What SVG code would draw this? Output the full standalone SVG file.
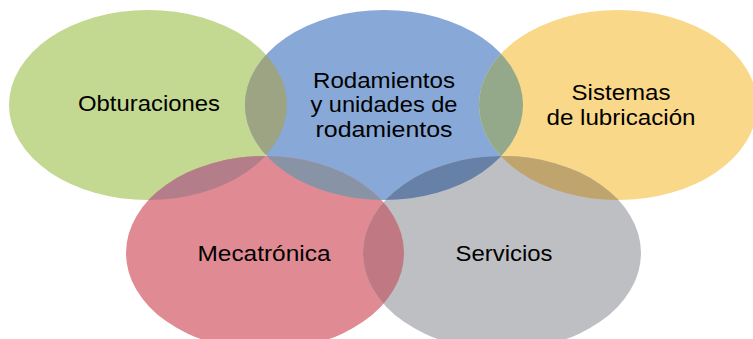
<svg xmlns="http://www.w3.org/2000/svg" width="753" height="339" viewBox="0 0 753 339">
<style>
text{font-family:"Liberation Sans",Arial,sans-serif;font-size:22px;fill:#000;text-anchor:middle}
</style>
<defs>
<ellipse id="eG" cx="148" cy="105" rx="139" ry="95"/>
<ellipse id="eB" cx="384" cy="105" rx="139" ry="95"/>
<ellipse id="eY" cx="618" cy="105" rx="139" ry="95"/>
<ellipse id="eR" cx="265" cy="253" rx="139" ry="97"/>
<ellipse id="eS" cx="502" cy="253" rx="139" ry="97"/>
<clipPath id="cG"><use href="#eG"/></clipPath>
<clipPath id="cB"><use href="#eB"/></clipPath>
<clipPath id="cY"><use href="#eY"/></clipPath>
<clipPath id="cR"><use href="#eR"/></clipPath>
</defs>
<rect width="753" height="339" fill="#fff"/>
<g id="obturaciones"><use href="#eG" fill="#C3D891"/></g>
<g id="rodamientos"><use href="#eB" fill="#88A9D8"/></g>
<g id="lubricacion"><use href="#eY" fill="#FAD889"/></g>
<g id="mecatronica"><use href="#eR" fill="#E08A93"/></g>
<g id="servicios"><use href="#eS" fill="#BEBFC3"/></g>
<g id="overlaps">
<use href="#eB" fill="#9CA484" clip-path="url(#cG)"/>
<use href="#eY" fill="#93A98A" clip-path="url(#cB)"/>
<use href="#eR" fill="#B37E89" clip-path="url(#cG)"/>
<use href="#eR" fill="#8894A6" clip-path="url(#cB)"/>
<use href="#eS" fill="#6780A7" clip-path="url(#cB)"/>
<use href="#eS" fill="#C0A46D" clip-path="url(#cY)"/>
<use href="#eS" fill="#C07883" clip-path="url(#cR)"/>
</g>
<g id="labels">
<text x="149" y="111" textLength="142" lengthAdjust="spacingAndGlyphs">Obturaciones</text>
<text x="384" y="87.5" textLength="142" lengthAdjust="spacingAndGlyphs">Rodamientos</text>
<text x="384" y="112.2" textLength="147" lengthAdjust="spacingAndGlyphs">y unidades de</text>
<text x="384" y="136.9" textLength="137" lengthAdjust="spacingAndGlyphs">rodamientos</text>
<text x="621" y="99.5" textLength="99" lengthAdjust="spacingAndGlyphs">Sistemas</text>
<text x="621" y="125" textLength="149" lengthAdjust="spacingAndGlyphs">de lubricación</text>
<text x="264" y="261" textLength="133" lengthAdjust="spacingAndGlyphs">Mecatrónica</text>
<text x="504" y="261" textLength="97" lengthAdjust="spacingAndGlyphs">Servicios</text>
</g>
</svg>
